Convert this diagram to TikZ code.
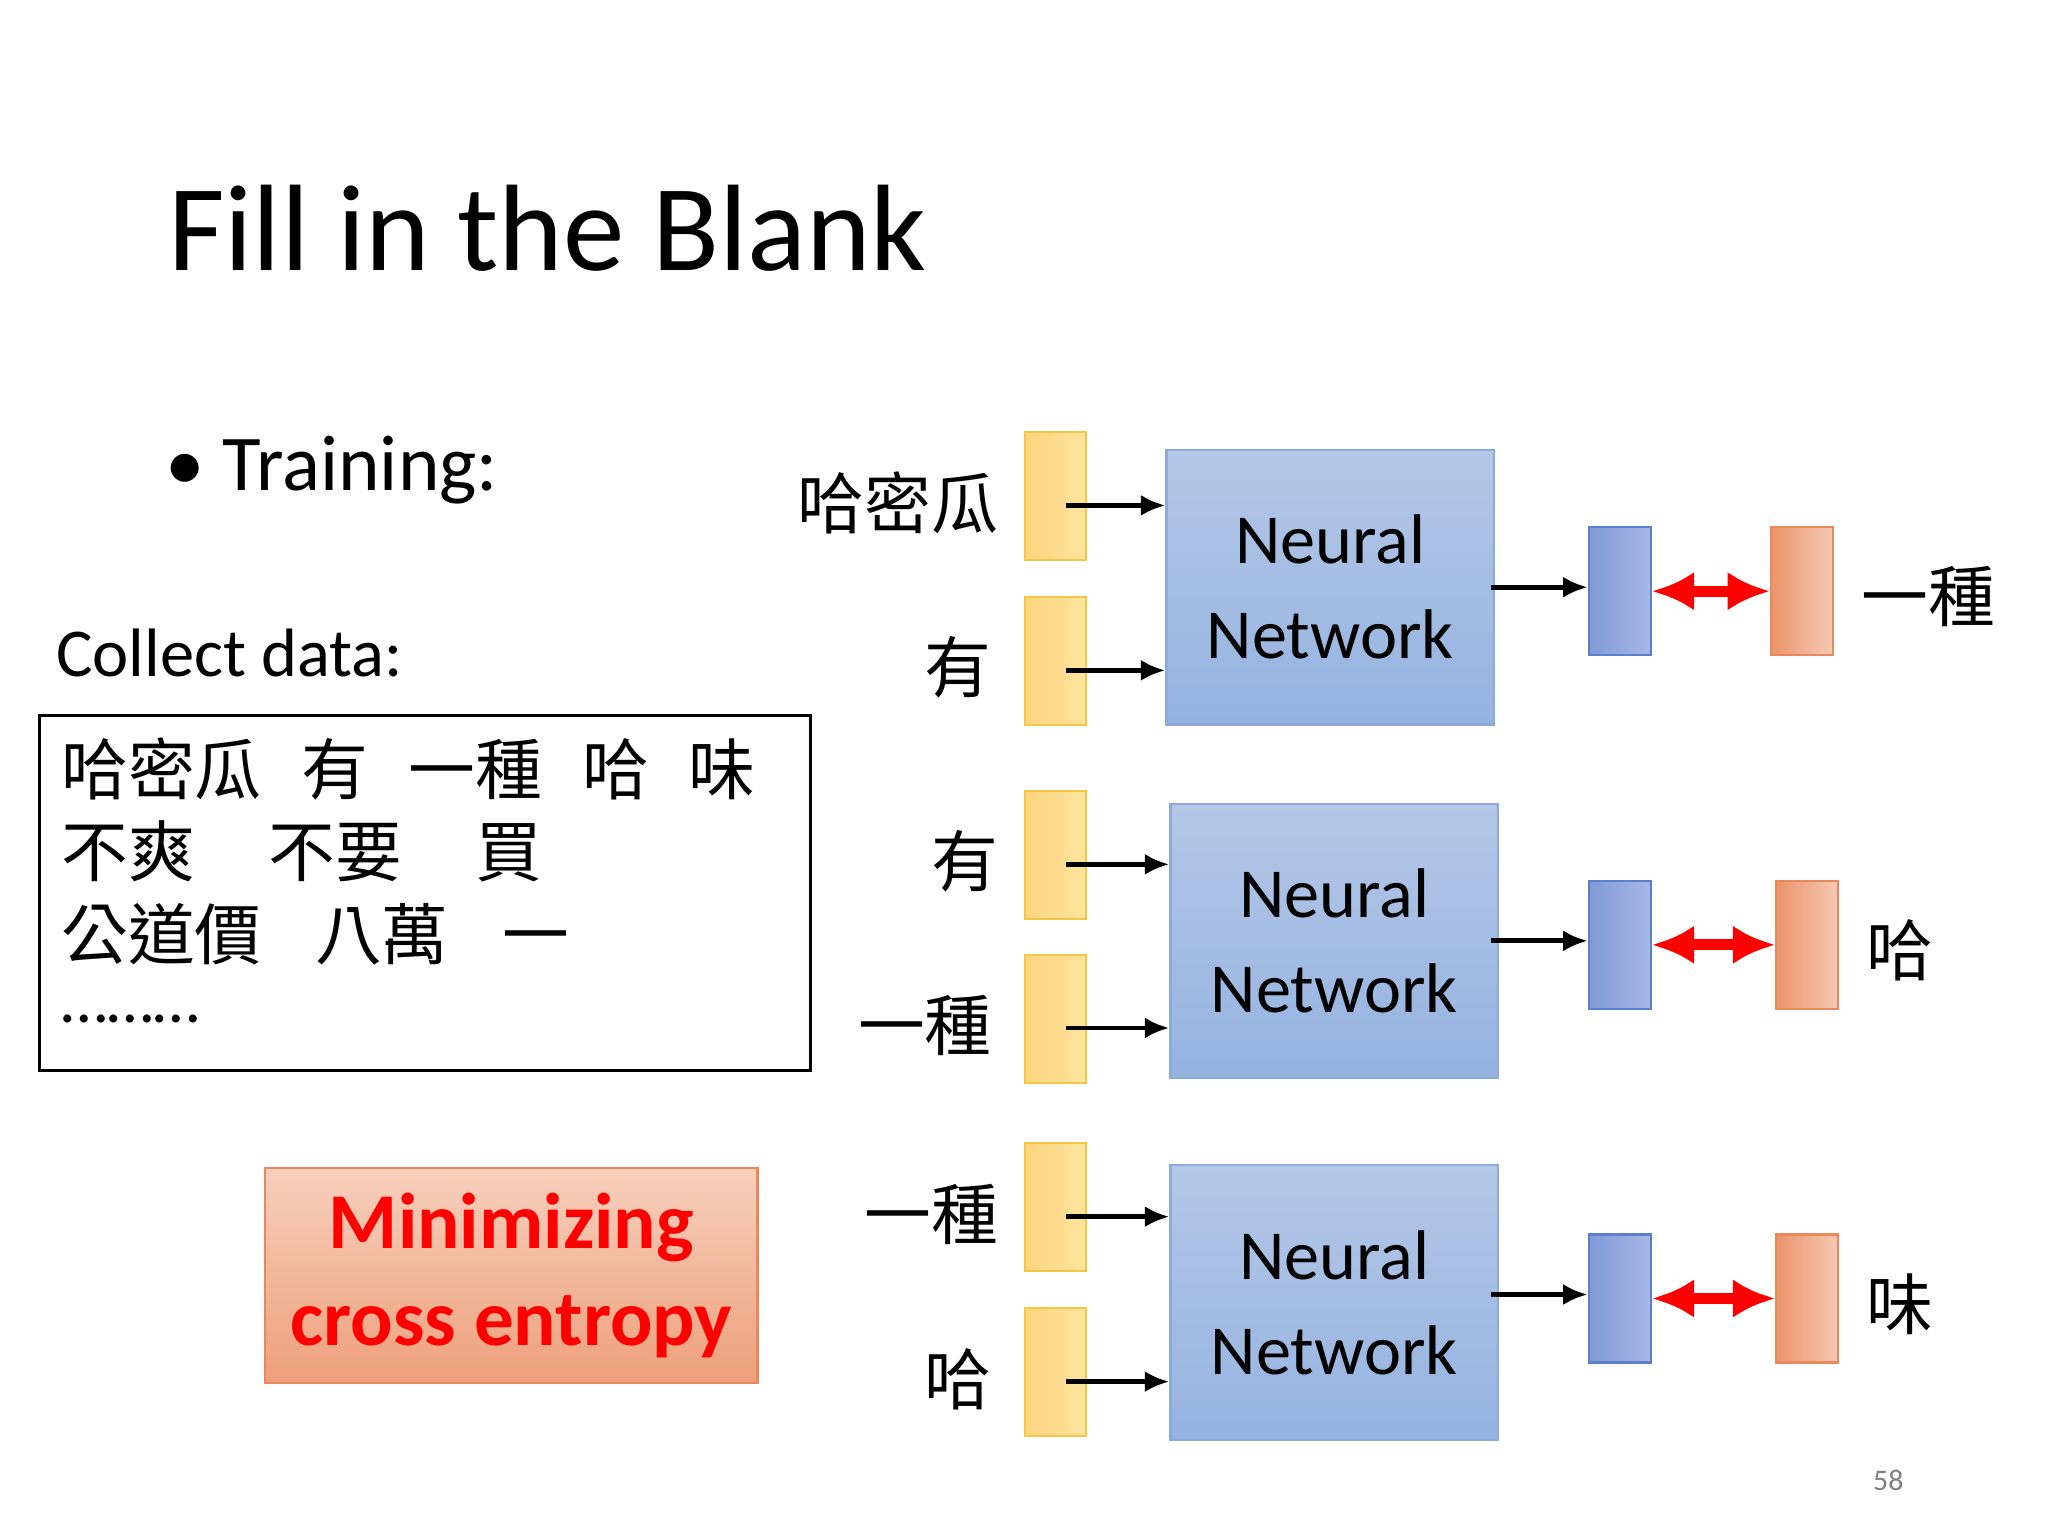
\documentclass[tikz,border=0pt]{standalone}
\usepackage{fontspec}
\setmainfont{Carlito}
\newfontfamily\cjk{Noto Sans CJK TC}
\usetikzlibrary{arrows.meta}
\definecolor{nnb}{HTML}{8EA9DB}
\definecolor{nnt}{HTML}{B4C7E7}
\definecolor{nnm}{HTML}{95B3E0}
\definecolor{ylb}{HTML}{F2C744}
\definecolor{yll}{HTML}{FCD47E}
\definecolor{ylr}{HTML}{FFE49E}
\definecolor{orb}{HTML}{E9885A}
\definecolor{bll}{HTML}{7F9AD6}
\definecolor{blr}{HTML}{A9B8E8}
\definecolor{blb}{HTML}{5B7FC8}
\begin{document}
\begin{tikzpicture}[x=0.013196cm,y=-0.013196cm,
 nn/.style={draw=nnb,top color=nnt,bottom color=nnm,line width=0.6pt},
 yl/.style={draw=ylb,left color=yll,right color=ylr,line width=0.6pt},
 bl/.style={draw=blb,left color=bll,right color=blr,line width=0.6pt},
 og/.style={draw=orb,left color=orb!90,right color=orb!45,line width=0.6pt},
 ar/.style={-{Latex[length=7pt,width=6pt]},line width=1.4pt},
 rd/.style={{Latex[length=12pt,width=11pt]}-{Latex[length=12pt,width=11pt]},red,line width=3.2pt},
 cj/.style={font=\cjk\fontsize{19}{22}\selectfont},
 nt/.style={font=\fontsize{20}{27}\selectfont,align=center}]
\useasboundingbox (0,0) rectangle (1552,1164);
\node[anchor=base west,inner sep=0,font=\fontsize{35}{40}\selectfont] (title) at (127,205) {Fill in the Blank};
\node[anchor=base west,inner sep=0,font=\fontsize{22.5}{28}\selectfont] (tr) at (125,372) {\textbullet\ Training:};
\node[anchor=base west,inner sep=0,font=\fontsize{19.5}{24}\selectfont] (cd) at (42,513) {Collect data:};
\draw[line width=0.8pt] (30,542) rectangle (614,811);
\node[cj,anchor=west,inner sep=0] (l1) at (46,583) {哈密瓜\hspace{0.6em}有\hspace{0.6em}一種\hspace{0.6em}哈\hspace{0.6em}味};
\node[cj,anchor=west,inner sep=0] (l2) at (46,645) {不爽\hspace{1.1em}不要\hspace{1.1em}買};
\node[cj,anchor=west,inner sep=0] (l3) at (46,708) {公道價\hspace{0.8em}八萬\hspace{0.8em}一};
\node[anchor=west,inner sep=0,font=\fontsize{19}{24}\selectfont] (l4) at (46,772) {………};
\node[draw=orb,top color=orb!40,bottom color=orb!80,line width=0.6pt,minimum width=373*0.013196cm,minimum height=163*0.013196cm,inner sep=0,align=center,text=red,font=\bfseries\fontsize{22.5}{27.5}\selectfont] (mc) at (387.5,966.5) {Minimizing\\cross entropy};
\foreach \i/\ya/\yb/\yo/\nx/\ny/\ox/\la/\lb/\lo in {1/376/501/448/1008/445/1342/哈密瓜/有/一種, 2/648/772/716/1011/713/1346/有/一種/哈, 3/915/1040/984/1011/987/1346/一種/哈/味}{
 \node[yl,minimum width=46*0.013196cm,minimum height=97*0.013196cm,inner sep=0] (ya\i) at (800,\ya) {};
 \node[yl,minimum width=46*0.013196cm,minimum height=97*0.013196cm,inner sep=0] (yb\i) at (800,\yb) {};
 \node[nn,nt,minimum width=248*0.013196cm,minimum height=208*0.013196cm,inner sep=0] (nn\i) at (\nx,\ny) {Neural\\Network};
 \node[bl,minimum width=47*0.013196cm,minimum height=97*0.013196cm,inner sep=0] (b\i) at (1227.5,\yo) {};
 \node[og,minimum width=47*0.013196cm,minimum height=97*0.013196cm,inner sep=0] (o\i) at (\ox+23.5,\yo) {};
 \node[cj,anchor=east,inner sep=0] (ta\i) at (757,\ya+5) {\la};
 \node[cj,anchor=east,inner sep=0] (tb\i) at (752,\yb+5) {\lb};
 \node[cj,anchor=west,inner sep=0] (to\i) at (\ox+68,\yo+4) {\lo};
 \coordinate (sa\i) at (808,\ya+7);
 \coordinate (sb\i) at (808,\yb+7);
 \draw[ar] (sa\i) -- (sa\i -| nn\i.west);
 \draw[ar] (sb\i) -- (sb\i -| nn\i.west);
 \coordinate (so\i) at (1130,\yo-3);
 \draw[ar] (so\i) -- (so\i -| b\i.west);
 \draw[rd] (b\i.east) -- (o\i.west);
}
\node[text=gray,font=\fontsize{8.5}{11}\selectfont] (pg) at (1431,1122) {58};
\end{tikzpicture}
\end{document}
